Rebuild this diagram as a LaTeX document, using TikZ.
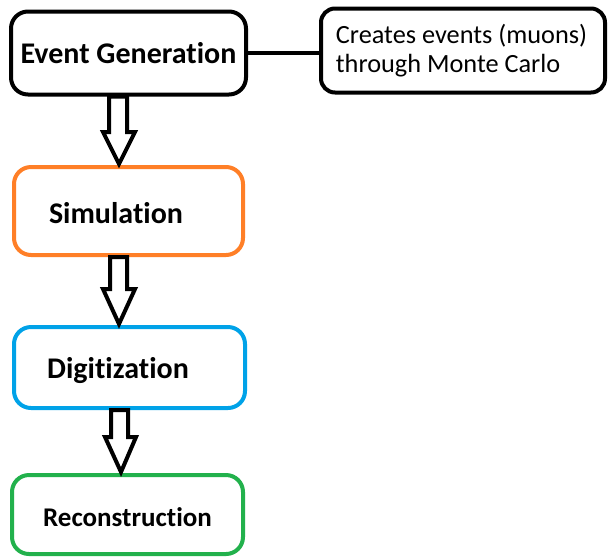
\documentclass[tikz,border=0pt]{standalone}
\usepackage{fontspec}
\setmainfont{Carlito}[Ligatures=NoCommon]
\usetikzlibrary{calc}
\definecolor{porange}{HTML}{FF7F27}
\definecolor{pblue}{HTML}{00A2E8}
\definecolor{pgreen}{HTML}{22B14C}
\newcommand{\lowertext}[2]{\raisebox{-#1}[\height][\depth]{#2}}
\tikzset{
  stage/.style={draw, line width=4pt, rounded corners=17pt, fill=white,
    minimum width=#1, font=\fontsize{30}{34}\selectfont\bfseries, inner sep=0pt},
  desc/.style={draw, line width=4pt, rounded corners=14pt, fill=white,
    minimum width=284pt, minimum height=84pt, align=left,
    font=\fontsize{26.3}{29}\selectfont, inner sep=0pt},
  harrow/.style={draw=black, line width=4pt, fill=white, line join=miter, miter limit=10},
  link/.style={draw, line width=4pt}
}
\begin{document}
\begin{tikzpicture}[x=1pt,y=-1pt]
\useasboundingbox (0,0) rectangle (612,558);
% boxes
\node[stage=235pt, minimum height=83pt] (gen) at (128.5,53) {Event Generation};
\node[desc] (dsc) at (463,50.5) {Creates events (muons)\hspace*{3pt}\\through Monte Carlo};
\node[stage=229pt, minimum height=88pt, draw=porange] (sim) at (128.5,211) {\lowertext{2pt}{Simulation}\hspace*{25pt}};
\node[stage=231pt, minimum height=81pt, draw=pblue] (dig) at (129.5,367.5) {\lowertext{3.5pt}{Digitization}\hspace*{23pt}};
\node[stage=231pt, minimum height=79pt, draw=pgreen, font=\fontsize{27}{31}\selectfont\bfseries] (rec) at (127.5,514.5) {\lowertext{3pt}{Reconstruction}};
% link
\draw[link] (gen.east) -- (gen.east -| dsc.west);
% hollow arrows
\path let \p1=(gen.south), \p2=(sim.north) in
  [harrow] (109,\y1) -- (109,\y2+33) -- (103,\y2+33) -- (119,\y2+1) -- (135,\y2+33) -- (127,\y2+33) -- (127,\y1) -- cycle;
\path let \p1=(sim.south), \p2=(dig.north) in
  [harrow] (110,\y1) -- (110,\y2+36) -- (103,\y2+36) -- (119,\y2+1) -- (135,\y2+36) -- (127,\y2+36) -- (127,\y1) -- cycle;
\path let \p1=(dig.south), \p2=(rec.north) in
  [harrow] (111,\y1) -- (111,\y2+36) -- (105,\y2+36) -- (121,\y2+1) -- (136,\y2+36) -- (128,\y2+36) -- (128,\y1) -- cycle;
\end{tikzpicture}
\end{document}
